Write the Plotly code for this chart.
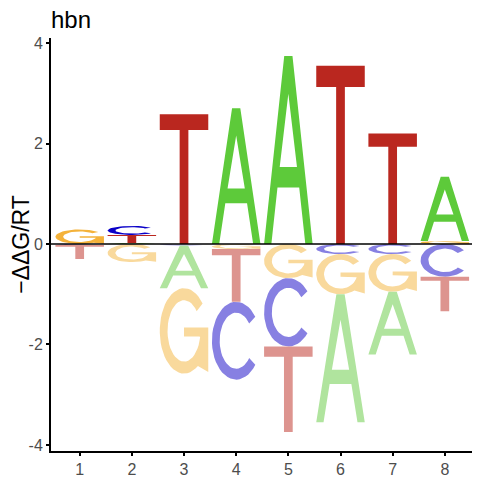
import numpy as np
import plotly.graph_objects as go

# Energy logo values (-ddG/RT) per position
positions = [1, 2, 3, 4, 5, 6, 7, 8]
val_A = [0.00, 0.02, -0.85, 2.70, 3.74, -2.55, -1.25, 1.28]
val_C = [-0.02, 0.18, -0.03, -1.55, -1.36, -0.20, -0.20, -0.65]
val_G = [0.29, -0.36, -1.70, -0.10, -0.68, -0.80, -0.75, 0.06]
val_T = [-0.28, 0.16, 2.58, -1.05, -1.70, 3.55, 2.20, -0.69]
y_ticks = [-4, -2, 0, 2, 4]
y_ticktext = ['-4', '-2', '0', '2', '4']

# colours: dark for positive, pale for negative
col_pos = {'A': '#5DCA3A', 'C': '#0A00C8', 'G': '#F4B23A', 'T': '#BA271F'}
col_neg = {'A': '#B0E49E', 'C': '#8780E2', 'G': '#F9D99C', 'T': '#DD948F'}
col_width = 0.93


def arc(cx, cy, rx, ry, a0, a1, n=40):
    t = np.radians(np.linspace(a0, a1, n))
    return list(zip(cx + rx * np.cos(t), cy + ry * np.sin(t)))


# glyph outlines in a unit box
def glyph(letter):
    if letter == 'T':
        return [(0, 1), (1, 1), (1, 0.88), (0.59, 0.88), (0.59, 0), (0.41, 0),
                (0.41, 0.88), (0, 0.88)]
    if letter == 'A':
        outer = [(0, 0), (0.15, 0), (0.276, 0.30), (0.724, 0.30), (0.85, 0),
                 (1, 0), (0.585, 1), (0.415, 1)]
        hole = [(0.5, 0.80), (0.678, 0.41), (0.322, 0.41), (0.5, 0.80)]
        return outer + hole + [(0.415, 1)]
    if letter == 'C':
        return arc(0.5, 0.5, 0.5, 0.5, 38, 322) + arc(0.5, 0.5, 0.34, 0.36, 322, 38)
    if letter == 'G':
        pts = arc(0.5, 0.5, 0.5, 0.5, 40, 305)
        pts += [(1.0, 0.02), (1.0, 0.54), (0.5, 0.54), (0.5, 0.435), (0.82, 0.435)]
        pts += arc(0.5, 0.5, 0.34, 0.36, -12, -320)
        return pts


values = {'A': val_A, 'C': val_C, 'G': val_G, 'T': val_T}

fig = go.Figure()
for i, pos in enumerate(positions):
    col = [(k, values[k][i]) for k in 'ACGT']
    pos_stack = sorted([c for c in col if c[1] > 0], key=lambda c: c[1])
    neg_stack = sorted([c for c in col if c[1] < 0], key=lambda c: -c[1])
    boxes = []
    base = 0.0
    for k, v in pos_stack:
        boxes.append((k, base, v, col_pos[k]))
        base += v
    base = 0.0
    for k, v in neg_stack:
        boxes.append((k, base + v, -v, col_neg[k]))
        base += v
    for k, y0, h, c in boxes:
        pts = glyph(k)
        xs = [pos - col_width / 2 + u * col_width for u, _ in pts]
        ys = [y0 + w * h for _, w in pts]
        fig.add_trace(go.Scatter(x=xs, y=ys, mode='lines', fill='toself',
                                 fillcolor=c, line=dict(width=0),
                                 hoverinfo='skip', showlegend=False))

fig.add_shape(type='line', xref='paper', x0=0, x1=1, y0=0, y1=0,
              line=dict(color='black', width=1.5), layer='above')

# page body has an 8px margin, so the figure is a bit smaller than the window
font = 'Liberation Sans, Arial, sans-serif'
fig.update_layout(
    template='none',
    width=472, height=472,
    margin=dict(l=43, r=7, t=30, b=29),
    plot_bgcolor='white', paper_bgcolor='white',
    title=dict(text='hbn', x=0, xref='paper', xanchor='left',
               y=1 - 12 / 472, yanchor='middle',
               font=dict(family=font, size=24, color='black')),
    xaxis=dict(range=[0.45, 8.54], tickvals=positions, showgrid=False,
               zeroline=False, showline=True, linecolor='black', linewidth=2,
               ticks='outside', ticklen=3, tickwidth=1.5, tickcolor='black',
               automargin=False,
               tickfont=dict(family=font, size=16, color='#4D4D4D')),
    yaxis=dict(range=[-4.12, 4.10], tickvals=y_ticks, ticktext=y_ticktext,
               showgrid=False, zeroline=False, showline=True,
               linecolor='black', linewidth=2, automargin=False,
               ticks='outside', ticklen=3, tickwidth=1.5, tickcolor='black',
               tickfont=dict(family=font, size=16, color='#4D4D4D'),
               title=dict(text='\u2212\u0394\u0394G/RT', standoff=2,
                          font=dict(family=font, size=23, color='black'))),
)

fig.write_html('out.html')
